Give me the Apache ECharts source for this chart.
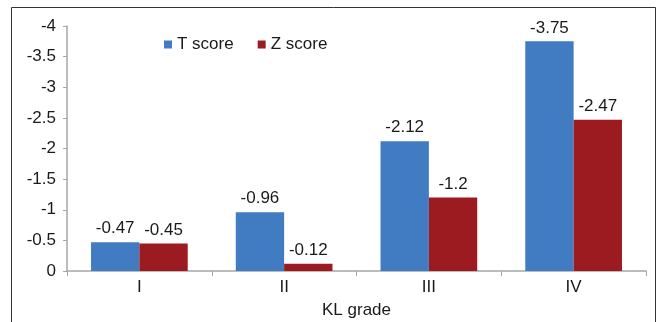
<!DOCTYPE html>
<html><head><meta charset="utf-8">
<script src="https://cdn.jsdelivr.net/npm/echarts@6/dist/echarts.min.js"></script>
<style>html,body{margin:0;padding:0;background:#fff}#c{width:657px;height:322px}</style>
</head><body><div id="c"></div>
<script>
const categories = ['I', 'II', 'III', 'IV'];
const tScore = [-0.47, -0.96, -2.12, -3.75];
const zScore = [-0.45, -0.12, -1.2, -2.47];
const seriesNames = ['T score', 'Z score'];
const yTicks = { min: -4, max: 0, interval: 0.5 };

const chart = echarts.init(document.getElementById('c'), null, { renderer: 'canvas' });
const font = 'Liberation Sans, Arial, sans-serif';
const fs = 17;
const lbl = { show: true, position: 'top', distance: 5, fontSize: fs, color: '#1a1a1a', fontFamily: font };
chart.setOption({
  animation: false,
  graphic: [{ type: 'rect', shape: { x: 11.5, y: 7.5, width: 644, height: 340 }, style: { fill: 'none', stroke: '#333', lineWidth: 1 }, z: -1 }],
  legend: {
    left: 159, top: 31, itemWidth: 8, itemHeight: 8, itemGap: 24, icon: 'rect',
    textStyle: { fontSize: fs, color: '#1a1a1a', fontFamily: font },
    data: seriesNames
  },
  grid: { left: 67, right: 11, top: 26, bottom: 51, containLabel: false, outerBoundsMode: 'none' },
  xAxis: {
    type: 'category', data: categories,
    name: 'KL grade', nameLocation: 'middle', nameGap: 31,
    nameTextStyle: { fontSize: fs, color: '#1a1a1a', fontFamily: font },
    axisLine: { lineStyle: { color: '#a6a6a6', width: 1.5 } },
    axisTick: { show: true, length: 5, lineStyle: { color: '#a6a6a6' } },
    axisLabel: { fontSize: fs, color: '#1a1a1a', fontFamily: font, margin: 8 }
  },
  yAxis: {
    type: 'value', inverse: true, min: yTicks.min, max: yTicks.max, interval: yTicks.interval,
    splitLine: { show: false },
    axisLine: { show: true, lineStyle: { color: '#a6a6a6', width: 1.5 } },
    axisTick: { show: true, length: 4, lineStyle: { color: '#a6a6a6' } },
    axisLabel: { fontSize: fs, color: '#1a1a1a', fontFamily: font, margin: 11 }
  },
  series: [
    { name: seriesNames[0], type: 'bar', data: tScore, barWidth: '33.4%', barGap: '0%', barCategoryGap: '33%', itemStyle: { color: '#417bc1' }, label: lbl },
    { name: seriesNames[1], type: 'bar', data: zScore, barWidth: '33.4%', itemStyle: { color: '#9c1b21' }, label: lbl }
  ]
});
</script></body></html>
